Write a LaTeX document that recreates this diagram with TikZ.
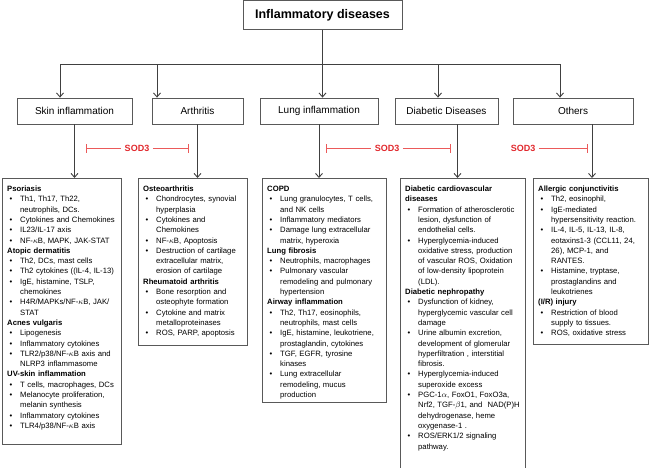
\documentclass[tikz,border=0pt]{standalone}
\usepackage{fontspec}
\setmainfont{Liberation Sans}
\usepackage{enumitem}
\usetikzlibrary{arrows.meta}
\setlist[itemize]{label=\textbullet,leftmargin=13pt,labelsep=8pt,itemsep=0pt,topsep=0pt,parsep=0pt,partopsep=0pt}
\newcommand{\hd}[1]{\par\noindent\textbf{#1}\par}
\definecolor{sodred}{RGB}{225,40,45}
\definecolor{inhred}{RGB}{235,90,90}
\hyphenpenalty=10000
\exhyphenpenalty=10000
\begin{document}
\begin{tikzpicture}[x=1pt,y=-1pt,
 box/.style={draw=black!65,line width=0.8pt,fill=white},
 cat/.style={box,minimum height=26pt,inner sep=0pt,font=\fontsize{10}{12}\selectfont},
 dbox/.style={box,anchor=north west,inner sep=0pt},
 txt/.style={anchor=north west,inner sep=0pt,font=\fontsize{7.7}{10.3}\selectfont,align=left},
 arr/.style={draw=black!75,line width=0.9pt,-{Straight Barb[length=4pt,width=7pt]}},
 inh/.style={draw=inhred,line width=0.7pt},
 sod/.style={text=sodred,font=\bfseries\fontsize{9}{11}\selectfont}]
\useasboundingbox (0,0) rectangle (650,467);
\node[box,minimum width=159pt,minimum height=29pt,font=\bfseries\fontsize{12.5}{14}\selectfont] (top) at (322.5,15) {Inflammatory diseases};
\node[cat,minimum width=115pt] (skin) at (74.5,111) {Skin inflammation};
\node[cat,minimum width=91pt] (arth) at (197.5,111) {Arthritis};
\node[cat,minimum width=118pt] (lung) at (319,111) {Lung inflammation};
\node[cat,minimum width=103pt] (dia) at (446.5,111) {Diabetic Diseases};
\node[cat,minimum width=120pt] (oth) at (573,111) {Others};
\coordinate (hub) at (top.south |- 0,64);
\coordinate (hl) at (60,64); \coordinate (hr) at (560,64);
\coordinate (ha) at (157,64); \coordinate (hd) at (438,64);
\draw[draw=black!75,line width=0.9pt] (top.south) -- (hub);
\draw[draw=black!75,line width=0.9pt] (hl) -- (hr);
\draw[arr] (hl) -- (skin.north -| hl);
\draw[arr] (ha) -- (arth.north -| ha);
\draw[arr] (hub) -- (lung.north -| hub);
\draw[arr] (hd) -- (dia.north -| hd);
\draw[arr] (hr) -- (oth.north -| hr);
% detail boxes
\node[dbox,minimum width=119pt,minimum height=266pt] (sb) at (2,178) {};
\node[dbox,minimum width=109pt,minimum height=167pt] (ab) at (138,178) {};
\node[dbox,minimum width=124pt,minimum height=224pt] (lb) at (262,178) {};
\node[dbox,minimum width=125pt,minimum height=292pt] (db) at (400,178) {};
\node[dbox,minimum width=115pt,minimum height=166pt] (ob) at (533,178) {};
\coordinate (dq) at ([xshift=11pt]dia.south);
\coordinate (oq) at ([xshift=19pt]oth.south);
\draw[arr] (skin.south) -- (sb.north -| skin.south);
\draw[arr] (arth.south) -- (ab.north -| arth.south);
\draw[arr] (lung.south) -- (lb.north -| lung.south);
\draw[arr] (dq) -- (db.north -| dq);
\draw[arr] (oq) -- (ob.north -| oq);
% SOD3
\node[sod] (s1) at (137,148) {SOD3};
\node[sod] (s2) at (387,148) {SOD3};
\node[sod] (s3) at (523,148) {SOD3};
\coordinate (a1) at (86,148); \coordinate (b1) at (188,148);
\coordinate (a2) at (326,148); \coordinate (b2) at (450,148);
\coordinate (b3) at (587,148);
\draw[inh] (a1) -- (s1.west) (s1.east) -- (b1);
\draw[inh] (a2) -- (s2.west) (s2.east) -- (b2);
\draw[inh] (s3.east) -- (b3);
\foreach \p in {a1,b1,a2,b2,b3}
  \draw[inh] ([yshift=-4.5pt]\p) -- ([yshift=4.5pt]\p);
% texts
\node[txt,text width=113pt] (st) at (7,181) {\hd{Psoriasis}
\begin{itemize}
\item Th1, Th17, Th22,\\neutrophils, DCs.
\item Cytokines and Chemokines
\item IL23/IL-17 axis
\item NF-$\kappa$B, MAPK, JAK-STAT
\end{itemize}
\hd{Atopic dermatitis}
\begin{itemize}
\item Th2, DCs, mast cells
\item Th2 cytokines ((IL-4, IL-13)
\item IgE, histamine, TSLP,\\chemokines
\item H4R/MAPKs/NF-$\kappa$B, JAK/\\STAT
\end{itemize}
\hd{Acnes vulgaris}
\begin{itemize}
\item Lipogenesis
\item Inflammatory cytokines
\item TLR2/p38/NF-$\kappa$B axis and\\NLRP3 inflammasome
\end{itemize}
\hd{UV-skin inflammation}
\begin{itemize}
\item T cells, macrophages, DCs
\item Melanocyte proliferation,\\melanin synthesis
\item Inflammatory cytokines
\item TLR4/p38/NF-$\kappa$B axis
\end{itemize}};
\node[txt,text width=102pt] (at) at (143,181) {\hd{Osteoarthritis}
\begin{itemize}
\item Chondrocytes, synovial\\hyperplasia
\item Cytokines and\\Chemokines
\item NF-$\kappa$B, Apoptosis
\item Destruction of cartilage\\extracellular matrix,\\erosion of cartilage
\end{itemize}
\hd{Rheumatoid arthritis}
\begin{itemize}
\item Bone resorption and\\osteophyte formation
\item Cytokine and matrix\\metalloproteinases
\item ROS, PARP, apoptosis
\end{itemize}};
\node[txt,text width=116pt] (lt) at (267,181) {\hd{COPD}
\begin{itemize}
\item Lung granulocytes, T cells,\\and NK cells
\item Inflammatory mediators
\item Damage lung extracellular\\matrix, hyperoxia
\end{itemize}
\hd{Lung fibrosis}
\begin{itemize}
\item Neutrophils, macrophages
\item Pulmonary vascular\\remodeling and pulmonary\\hypertension
\end{itemize}
\hd{Airway inflammation}
\begin{itemize}
\item Th2, Th17, eosinophils,\\neutrophils, mast cells
\item IgE, histamine, leukotriene,\\prostaglandin, cytokines
\item TGF, EGFR, tyrosine\\kinases
\item Lung extracellular\\remodeling, mucus\\production
\end{itemize}};
\node[txt,text width=118pt] (dt) at (405,181) {\hd{Diabetic cardiovascular\\diseases}
\begin{itemize}
\item Formation of atherosclerotic\\lesion, dysfunction of\\endothelial cells.
\item Hyperglycemia-induced\\oxidative stress, production\\of vascular ROS, Oxidation\\of low-density lipoprotein\\(LDL).
\end{itemize}
\hd{Diabetic nephropathy}
\begin{itemize}
\item Dysfunction of kidney,\\hyperglycemic vascular cell\\damage
\item Urine albumin excretion,\\development of glomerular\\hyperfiltration , interstitial\\fibrosis.
\item Hyperglycemia-induced\\superoxide excess
\item PGC-1$\alpha$, FoxO1, FoxO3a,\\Nrf2, TGF-$\beta$1, and \ NAD(P)H\\dehydrogenase, heme\\oxygenase-1 .
\item ROS/ERK1/2 signaling\\pathway.
\end{itemize}};
\node[txt,text width=110pt] (ot) at (538,181) {\hd{Allergic conjunctivitis}
\begin{itemize}
\item Th2, eosinophil,
\item IgE-mediated\\hypersensitivity reaction.
\item IL-4, IL-5, IL-13, IL-8,\\eotaxins1-3 (CCL11, 24,\\26), MCP-1, and\\RANTES.
\item Histamine, tryptase,\\prostaglandins and\\leukotrienes
\end{itemize}
\hd{(I/R) injury}
\begin{itemize}
\item Restriction of blood\\supply to tissues.
\item ROS, oxidative stress
\end{itemize}};
\end{tikzpicture}
\end{document}
